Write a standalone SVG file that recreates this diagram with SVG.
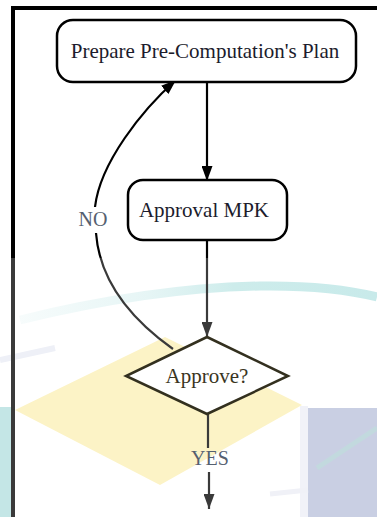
<svg xmlns="http://www.w3.org/2000/svg" width="377" height="517" viewBox="0 0 377 517">
  <defs>
    <style>
      .node { fill: #ffffff; stroke-width: 2.5; }
      .label { font-family: "Liberation Serif", "Times New Roman", serif; font-size: 21px; text-anchor: middle; }
      .edge { fill: none; stroke-width: 2.2; }
      .edgelabel { font-family: "Liberation Serif", "Times New Roman", serif; font-size: 20px; text-anchor: middle; fill: #556070; }
    </style>
    <!-- stroke tone: black on the upper half, softer grey lower down -->
    <linearGradient id="tone" gradientUnits="userSpaceOnUse" x1="0" y1="0" x2="0" y2="517">
      <stop offset="0" stop-color="#000000"/>
      <stop offset="0.499" stop-color="#000000"/>
      <stop offset="0.499" stop-color="#3a3a3a"/>
      <stop offset="1" stop-color="#3a3a3a"/>
    </linearGradient>
    <!-- teal sweep fading out towards the left -->
    <linearGradient id="sweep" gradientUnits="userSpaceOnUse" x1="20" y1="0" x2="377" y2="0">
      <stop offset="0" stop-color="#d6efef" stop-opacity="0.2"/>
      <stop offset="0.35" stop-color="#d6efef" stop-opacity="0.6"/>
      <stop offset="0.6" stop-color="#cdeceb" stop-opacity="1"/>
      <stop offset="1" stop-color="#c8eaea" stop-opacity="1"/>
    </linearGradient>
    <marker id="head" viewBox="0 0 15 11" refX="15" refY="5.5" markerWidth="15" markerHeight="11" markerUnits="userSpaceOnUse" orient="auto">
      <path d="M0,0 L15,5.5 L0,11 z" fill="#000000"/>
    </marker>
    <marker id="headSoft" viewBox="0 0 15 11" refX="15" refY="5.5" markerWidth="15" markerHeight="11" markerUnits="userSpaceOnUse" orient="auto">
      <path d="M0,0 L15,5.5 L0,11 z" fill="#3a3a3a"/>
    </marker>
  </defs>

  <rect x="0" y="0" width="377" height="517" fill="#ffffff"/>

  <!-- background decoration -->
  <g id="backdrop">
    <rect x="0" y="407" width="11" height="110" fill="#c4e6e6"/>
    <path d="M0,360 L55,348" stroke="#eef0f7" stroke-width="6" fill="none"/>
    <path d="M20,320 Q150,288 260,286 Q330,285 377,297" stroke="url(#sweep)" stroke-width="9" fill="none"/>
    <polygon points="15,410 165,337 302,405 160,485" fill="#fcf3c6"/>
    <rect x="300" y="406" width="8" height="111" fill="#f1f2f8"/>
    <rect x="308" y="408" width="69" height="109" fill="#c9cfe3"/>
    <path d="M317,468 L377,428" stroke="#c2d9de" stroke-width="5" fill="none"/>
    <path d="M270,494 L308,490" stroke="#f0f1f7" stroke-width="5" fill="none"/>
  </g>

  <!-- frame -->
  <g id="frame" fill="none" stroke="url(#tone)" stroke-width="4">
    <path d="M11,8 L377,8"/>
    <path d="M13,6 L13,517"/>
  </g>

  <!-- connectors -->
  <g id="connectors">
    <path class="edge" d="M207,82 L207,181" stroke="#000000" marker-end="url(#head)"/>
    <path class="edge" d="M207,241 L207,337" stroke="url(#tone)" marker-end="url(#headSoft)"/>
    <path class="edge" d="M208,414 L208,448" stroke="#3a3a3a"/>
    <path class="edge" d="M209,472 L209,509" stroke="#3a3a3a" marker-end="url(#headSoft)"/>
    <path class="edge" d="M173,349 C135,322 100,285 96,233" stroke="url(#tone)"/>
    <path class="edge" d="M95,207 C100,163 142,110 176,80" stroke="#000000" marker-end="url(#head)"/>
    <text class="edgelabel" x="93" y="226" font-family="Liberation Serif, Times New Roman, serif">NO</text>
    <text class="edgelabel" x="210" y="465" font-family="Liberation Serif, Times New Roman, serif">YES</text>
  </g>

  <!-- nodes -->
  <g id="prepare-plan">
    <rect class="node" x="57" y="20" width="299" height="62" rx="16" stroke="#000000"/>
    <text class="label" x="205" y="58" fill="#1c1c2c" font-family="Liberation Serif, Times New Roman, serif">Prepare Pre-Computation's Plan</text>
  </g>
  <g id="approval-mpk">
    <rect class="node" x="128" y="180" width="159" height="60" rx="15" stroke="#000000"/>
    <text class="label" x="204" y="217" fill="#1c1c2c" font-family="Liberation Serif, Times New Roman, serif">Approval MPK</text>
  </g>
  <g id="approve">
    <polygon class="node" points="207,337 288,376 207,414 126,376" stroke="#33301f"/>
    <text class="label" x="207" y="383" font-size="20" fill="#3a3522" font-family="Liberation Serif, Times New Roman, serif">Approve?</text>
  </g>
</svg>
